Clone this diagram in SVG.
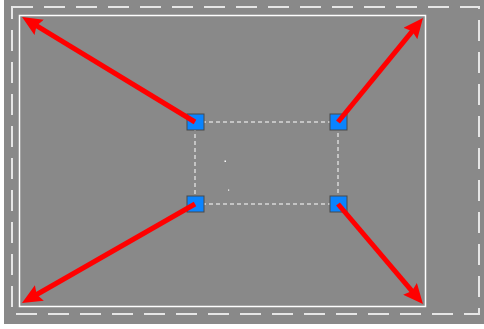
<svg xmlns="http://www.w3.org/2000/svg" width="484" height="329" viewBox="0 0 484 329">
  <style>
    .handle { fill: #0a84ff; stroke: #4a4a4a; stroke-width: 1; }
    .arrow { stroke: #ff0000; stroke-width: 5; fill: none; marker-end: url(#head); }
  </style>
  <defs>
    <marker id="head" markerUnits="userSpaceOnUse" viewBox="0 0 20 18" markerWidth="20" markerHeight="18" refX="8" refY="9" orient="auto">
      <path d="M0,0 L20,9 L0,18 L3,9 z" fill="#ff0000"/>
    </marker>
  </defs>
  <rect x="0" y="0" width="484" height="329" fill="#ffffff"/>
  <rect x="4" y="0" width="480" height="324" fill="#898989"/>
  <rect x="12" y="7" width="467" height="307" fill="none" stroke="#e6e6e6" stroke-width="2" stroke-dasharray="21,11"/>
  <rect x="19.5" y="15.5" width="406" height="291" fill="none" stroke="#ffffff" stroke-width="1.5"/>
  <rect x="195" y="122" width="143" height="82" fill="none" stroke="#ffffff" stroke-width="1" stroke-dasharray="4,3"/>
  <rect x="224.5" y="160.5" width="1.5" height="1.5" fill="#ffffff"/>
  <rect x="228" y="189.5" width="1.2" height="1.2" fill="#ffffff"/>
  <g id="handle-tl"><rect class="handle" x="187" y="114" width="17" height="16"/></g>
  <g id="handle-tr"><rect class="handle" x="330" y="114" width="17" height="16"/></g>
  <g id="handle-bl"><rect class="handle" x="187" y="196" width="17" height="16"/></g>
  <g id="handle-br"><rect class="handle" x="330" y="196" width="17" height="16"/></g>
  <g id="connectors">
    <line class="arrow" x1="195" y1="122" x2="32.3" y2="23.2"/>
    <line class="arrow" x1="338" y1="122" x2="415.4" y2="27.3"/>
    <line class="arrow" x1="195" y1="204" x2="32.4" y2="297"/>
    <line class="arrow" x1="338" y1="204" x2="415.2" y2="294.9"/>
  </g>
</svg>
